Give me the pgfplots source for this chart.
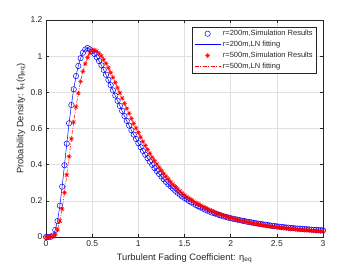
\documentclass[border=0pt]{standalone}
\usepackage{fontspec}
\setmainfont{Liberation Sans}
\usepackage{pgfplots}
\pgfplotsset{compat=1.18}
\usepackage{pgfplotstable}
\definecolor{gridc}{rgb}{0.88,0.88,0.88}
\definecolor{axc}{rgb}{0.15,0.15,0.15}
\definecolor{txtc}{rgb}{0.15,0.15,0.15}
\pgfdeclareplotmark{mstar}{%
 \pgfpathmoveto{\pgfqpoint{-\pgfplotmarksize}{0pt}}\pgfpathlineto{\pgfqpoint{\pgfplotmarksize}{0pt}}%
 \pgfpathmoveto{\pgfqpoint{0pt}{-\pgfplotmarksize}}\pgfpathlineto{\pgfqpoint{0pt}{\pgfplotmarksize}}%
 \pgfpathmoveto{\pgfqpoint{-0.7071\pgfplotmarksize}{-0.7071\pgfplotmarksize}}\pgfpathlineto{\pgfqpoint{0.7071\pgfplotmarksize}{0.7071\pgfplotmarksize}}%
 \pgfpathmoveto{\pgfqpoint{-0.7071\pgfplotmarksize}{0.7071\pgfplotmarksize}}\pgfpathlineto{\pgfqpoint{0.7071\pgfplotmarksize}{-0.7071\pgfplotmarksize}}%
 \pgfusepathqstroke}
\pgfplotstableread{
x b r
0 0 0
0.025 0 0
0.05 0.001 0
0.075 0.008 0.003
0.1 0.039 0.014
0.125 0.088 0.040
0.15 0.173 0.088
0.175 0.278 0.155
0.2 0.397 0.245
0.225 0.516 0.343
0.25 0.629 0.445
0.275 0.730 0.543
0.3 0.817 0.635
0.325 0.890 0.720
0.35 0.946 0.795
0.375 0.989 0.860
0.4 1.019 0.915
0.425 1.037 0.958
0.45 1.045 0.992
0.475 1.038 1.017
0.5 1.027 1.031
0.525 1.012 1.034
0.55 0.994 1.027
0.575 0.973 1.015
0.6 0.950 1.000
0.625 0.924 0.981
0.65 0.897 0.959
0.675 0.869 0.935
0.7 0.840 0.909
0.725 0.811 0.882
0.75 0.782 0.854
0.775 0.753 0.825
0.8 0.725 0.797
0.825 0.697 0.768
0.85 0.669 0.739
0.875 0.642 0.711
0.9 0.616 0.683
0.925 0.591 0.655
0.95 0.566 0.628
0.975 0.542 0.602
1.0 0.519 0.577
1.025 0.497 0.552
1.05 0.476 0.528
1.075 0.455 0.505
1.1 0.436 0.483
1.125 0.417 0.462
1.15 0.399 0.441
1.175 0.381 0.422
1.2 0.365 0.403
1.225 0.349 0.385
1.25 0.334 0.367
1.275 0.319 0.351
1.3 0.305 0.335
1.325 0.292 0.320
1.35 0.280 0.305
1.375 0.268 0.291
1.4 0.256 0.278
1.425 0.245 0.266
1.45 0.234 0.254
1.475 0.224 0.242
1.5 0.216 0.231
1.525 0.207 0.222
1.55 0.199 0.213
1.575 0.191 0.205
1.6 0.184 0.197
1.625 0.177 0.189
1.65 0.170 0.182
1.675 0.163 0.175
1.7 0.157 0.168
1.725 0.151 0.161
1.75 0.146 0.155
1.775 0.140 0.149
1.8 0.135 0.143
1.825 0.131 0.138
1.85 0.126 0.132
1.875 0.122 0.127
1.9 0.118 0.122
1.925 0.114 0.118
1.95 0.111 0.114
1.975 0.107 0.110
2.0 0.104 0.106
2.025 0.101 0.102
2.05 0.098 0.099
2.075 0.096 0.095
2.1 0.093 0.092
2.125 0.090 0.089
2.15 0.088 0.086
2.175 0.085 0.083
2.2 0.083 0.080
2.225 0.081 0.077
2.25 0.078 0.075
2.275 0.076 0.072
2.3 0.074 0.070
2.325 0.072 0.068
2.35 0.070 0.065
2.375 0.068 0.063
2.4 0.066 0.061
2.425 0.064 0.059
2.45 0.062 0.057
2.475 0.061 0.056
2.5 0.059 0.054
2.525 0.057 0.052
2.55 0.056 0.051
2.575 0.054 0.049
2.6 0.053 0.048
2.625 0.052 0.046
2.65 0.050 0.045
2.675 0.049 0.044
2.7 0.048 0.043
2.725 0.047 0.041
2.75 0.046 0.040
2.775 0.045 0.039
2.8 0.044 0.038
2.825 0.043 0.037
2.85 0.042 0.036
2.875 0.041 0.035
2.9 0.040 0.034
2.925 0.039 0.033
2.95 0.038 0.032
2.975 0.0375 0.0315
3.0 0.037 0.031
}\datatable
\begin{document}
\begin{tikzpicture}
\path[use as bounding box] (0,0) rectangle (357pt,268pt);
\begin{axis}[
 at={(46pt,31pt)}, anchor=south west,
 scale only axis, width=277pt, height=217pt,
 xmin=0, xmax=3, ymin=0, ymax=1.2,
 xtick={0,0.5,1,1.5,2,2.5,3},
 ytick={0,0.2,0.4,0.6,0.8,1,1.2},
 grid=major, major grid style={color=gridc, line width=0.4pt},
 axis line style={color=axc, line width=0.5pt},
 tick style={color=axc, line width=0.5pt},
 tick align=inside, major tick length=2.8pt,
 ticklabel style={font=\fontsize{8.5}{10}\selectfont, color=txtc},
 /pgf/number format/assume math mode=true,
 label style={font=\fontsize{9.3}{11}\selectfont, color=txtc},
 xlabel={Turbulent Fading Coefficient: η\textsubscript{eq}},
 ylabel={Probability Density: f\textsubscript{H}(η\textsubscript{eq})},
 xlabel style={at={(axis description cs:0.5,-0.108)}, anchor=base},
 ylabel style={at={(axis description cs:-0.082,0.545)}, anchor=base},
 clip=false,
 legend style={at={(1,1)}, anchor=north east, xshift=-6pt, yshift=-7pt,
   draw=axc, line width=0.5pt, fill=white, text=txtc,
   font=\fontsize{7.5}{8.5}\selectfont, inner xsep=2pt, inner ysep=1pt, row sep=0pt},
 legend cell align=left,
 legend image code/.code={\draw[mark repeat=2,mark phase=2,#1] plot coordinates {(0pt,0pt) (13pt,0pt) (26pt,0pt)};},
]
\addplot[only marks, mark=o, color=blue, mark size=2.7pt, mark options={line width=0.5pt}] table[x=x,y=b]{\datatable};
\addlegendentry{r=200m,Simulation Results}
\addplot[blue, line width=0.5pt, no marks] table[x=x,y=b]{\datatable};
\addlegendentry{r=200m,LN fitting}
\addplot[only marks, mark=mstar, color=red, mark size=2.5pt, mark options={line width=0.5pt}] table[x=x,y=r]{\datatable};
\addlegendentry{r=500m,Simulation Results}
\addplot[red, line width=0.5pt, no marks, dash pattern=on 4pt off 1.5pt on 1pt off 1.5pt] table[x=x,y=r]{\datatable};
\addlegendentry{r=500m,LN fitting}
\end{axis}
\end{tikzpicture}
\end{document}
